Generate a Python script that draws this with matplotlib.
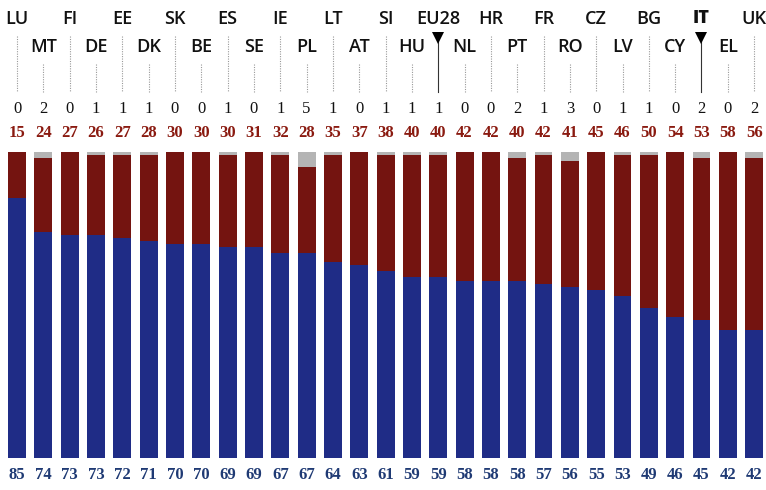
import matplotlib
matplotlib.use("Agg")
import matplotlib.pyplot as plt
import numpy as np

# ======================================================
# Data (percent shares per country, sorted by blue share)
# ======================================================

countries = ["LU", "MT", "FI", "DE", "EE", "DK", "SK", "BE", "ES", "SE",
             "IE", "PL", "LT", "AT", "SI", "HU", "EU28", "NL", "HR", "PT",
             "FR", "RO", "CZ", "LV", "BG", "CY", "IT", "EL", "UK"]

blue_share = [85, 74, 73, 73, 72, 71, 70, 70, 69, 69, 67, 67, 64, 63, 61,
              59, 59, 58, 58, 58, 57, 56, 55, 53, 49, 46, 45, 42, 42]

red_share = [15, 24, 27, 26, 27, 28, 30, 30, 30, 31, 32, 28, 35, 37, 38,
             40, 40, 42, 42, 40, 42, 41, 45, 46, 50, 54, 53, 58, 56]

grey_share = [0, 2, 0, 1, 1, 1, 0, 0, 1, 0, 1, 5, 1, 0, 1,
              1, 1, 0, 0, 2, 1, 3, 0, 1, 1, 0, 2, 0, 2]

highlighted = ["EU28", "IT"]

# ======================================================
# Style
# ======================================================

BLUE = "#1f2c86"
RED = "#741410"
GREY = "#b4b4b4"
BLUE_TXT = "#1f3a74"
RED_TXT = "#8a1a10"

# vertical layout, in percent units of the bar axis
Y_ROW1 = 143.5
Y_ROW2 = 134.5
Y_GREY_NUM = 114.0
Y_RED_NUM = 106.3
Y_BLUE_NUM = -5.6

# ======================================================
# Plot
# ======================================================

fig = plt.figure(figsize=(7.66, 4.90), dpi=100)
ax = fig.add_axes([0, 0, 1, 1])
ax.set_xlim(-0.646, 28.45)
ax.set_ylim(-10.46, 149.7)
ax.axis("off")

x = np.arange(len(countries))
blue = np.array(blue_share)
red = np.array(red_share)
grey = np.array(grey_share)

ax.bar(x, blue, width=0.68, color=BLUE, linewidth=0)
ax.bar(x, red, bottom=blue, width=0.68, color=RED, linewidth=0)
ax.bar(x, grey, bottom=blue + red, width=0.68, color=GREY, linewidth=0)

label_font = dict(family=["Open Sans", "DejaVu Sans"], fontsize=13,
                  ha="center", va="center", color="#111111")
num_font = dict(family=["Liberation Serif", "DejaVu Serif"], fontsize=12,
                ha="center", va="center")

for i, c in enumerate(countries):
    top_row = i % 2 == 0
    y_lab = Y_ROW1 if top_row else Y_ROW2
    weight = "heavy" if c == "IT" else "semibold"
    ax.text(i, y_lab, c, fontweight=weight, **label_font)

    # leader line from label down to the value rows
    y_start = 137.8 if top_row else 128.8
    y_end = 119.5
    if c in highlighted:
        ax.plot([i, i], [y_start, y_end], color="#333333", lw=0.8)
        ax.plot(i, 137.3, marker="v", color="black", markersize=8,
                markeredgewidth=0)
    else:
        ax.plot([i, i], [y_start, y_end], color="#999999", lw=0.8,
                linestyle=(0, (1, 1.2)))

    ax.text(i, Y_GREY_NUM, str(grey_share[i]), color="#111111", **num_font)
    ax.text(i, Y_RED_NUM, str(red_share[i]), color=RED_TXT,
            fontweight="bold", **num_font)
    ax.text(i, Y_BLUE_NUM, str(blue_share[i]), color=BLUE_TXT,
            fontweight="bold", **num_font)

fig.savefig("out.png", dpi=100, facecolor="white")
